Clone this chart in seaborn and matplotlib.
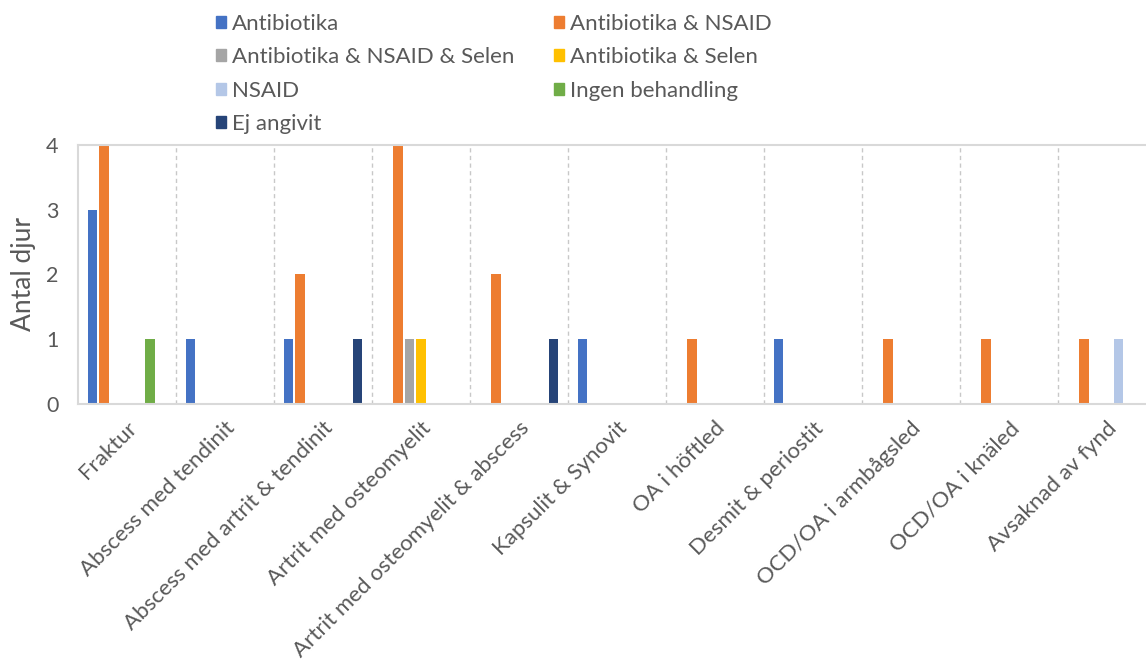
import matplotlib
matplotlib.use("Agg")
import matplotlib.pyplot as plt
import seaborn as sns
import pandas as pd

categories = [
    "Fraktur", "Abscess med tendinit", "Abscess med artrit & tendinit",
    "Artrit med osteomyelit", "Artrit med osteomyelit & abscess",
    "Kapsulit & Synovit", "OA i höftled", "Desmit & periostit",
    "OCD/OA i armbågsled", "OCD/OA i knäled", "Avsaknad av fynd",
]
treatments = [
    "Antibiotika", "Antibiotika & NSAID", "Antibiotika & NSAID & Selen",
    "Antibiotika & Selen", "NSAID", "Ingen behandling", "Ej angivit",
]
antibiotika = [3, 1, 1, 0, 0, 1, 0, 1, 0, 0, 0]
antibiotika_nsaid = [4, 0, 2, 4, 2, 0, 1, 0, 1, 1, 1]
antibiotika_nsaid_selen = [0, 0, 0, 1, 0, 0, 0, 0, 0, 0, 0]
antibiotika_selen = [0, 0, 0, 1, 0, 0, 0, 0, 0, 0, 0]
nsaid = [0, 0, 0, 0, 0, 0, 0, 0, 0, 0, 1]
ingen_behandling = [1, 0, 0, 0, 0, 0, 0, 0, 0, 0, 0]
ej_angivit = [0, 0, 1, 0, 1, 0, 0, 0, 0, 0, 0]
y_ticks = [0, 1, 2, 3, 4]

series = [antibiotika, antibiotika_nsaid, antibiotika_nsaid_selen,
          antibiotika_selen, nsaid, ingen_behandling, ej_angivit]
colors = ["#4472C4", "#ED7D31", "#A5A5A5", "#FFC000",
          "#B4C7E7", "#70AD47", "#264478"]

rows = []
for name, vals in zip(treatments, series):
    for cat, v in zip(categories, vals):
        rows.append({"Diagnos": cat, "Behandling": name, "Antal": v})
df = pd.DataFrame(rows)

sns.set_theme(style="white")
plt.rcParams["font.family"] = ["Lato", "DejaVu Sans"]
text_color = "#595959"
frame_color = "#D9D9D9"

fig = plt.figure(figsize=(11.46, 6.63), dpi=100)
ax = fig.add_axes([78 / 1146, 1 - 404 / 663, 1078 / 1146, 259 / 663])

sns.barplot(data=df, x="Diagnos", y="Antal", hue="Behandling",
            order=categories, hue_order=treatments, palette=colors,
            width=0.82, gap=0.2, linewidth=0, saturation=1,
            errorbar=None, ax=ax, legend=False)

ax.set_xlim(-0.5, len(categories) - 0.5)
ax.set_ylim(0, 4)
ax.set_yticks(y_ticks)
ax.set_yticklabels([str(t) for t in y_ticks], fontsize=15.5, color=text_color)
ax.set_ylabel("Antal djur", fontsize=19, color=text_color, labelpad=7)
ax.set_xlabel("")
ax.set_xticks(range(len(categories)))
ax.set_xticklabels(categories, rotation=45, ha="right",
                   rotation_mode="anchor", fontsize=16, color=text_color)
ax.tick_params(axis="x", length=0, pad=10)
ax.tick_params(axis="y", length=0, pad=14)

for k in range(len(categories) - 1):
    ax.axvline(k + 0.5, color="#C8C8C8", linestyle=(0, (3, 2.5)),
               linewidth=1, zorder=0)

for side in ["left", "top", "bottom", "right"]:
    ax.spines[side].set_color(frame_color)
    ax.spines[side].set_linewidth(1.5)

# Legend laid out row by row in two columns
handles = [plt.Rectangle((0, 0), 1, 1, color=c) for c in colors]
legend_style = dict(loc="upper left", frameon=False, fontsize=16,
                    labelcolor=text_color, handlelength=0.45,
                    handleheight=0.45, handletextpad=0.25,
                    labelspacing=0.6, borderaxespad=0, borderpad=0)
left_idx = [0, 2, 4, 6]
right_idx = [1, 3, 5]
fig.legend([handles[i] for i in left_idx], [treatments[i] for i in left_idx],
           bbox_to_anchor=(216 / 1146, 1 - 14 / 663), **legend_style)
fig.legend([handles[i] for i in right_idx], [treatments[i] for i in right_idx],
           bbox_to_anchor=(554 / 1146, 1 - 14 / 663), **legend_style)

fig.savefig("out.png", dpi=100)
